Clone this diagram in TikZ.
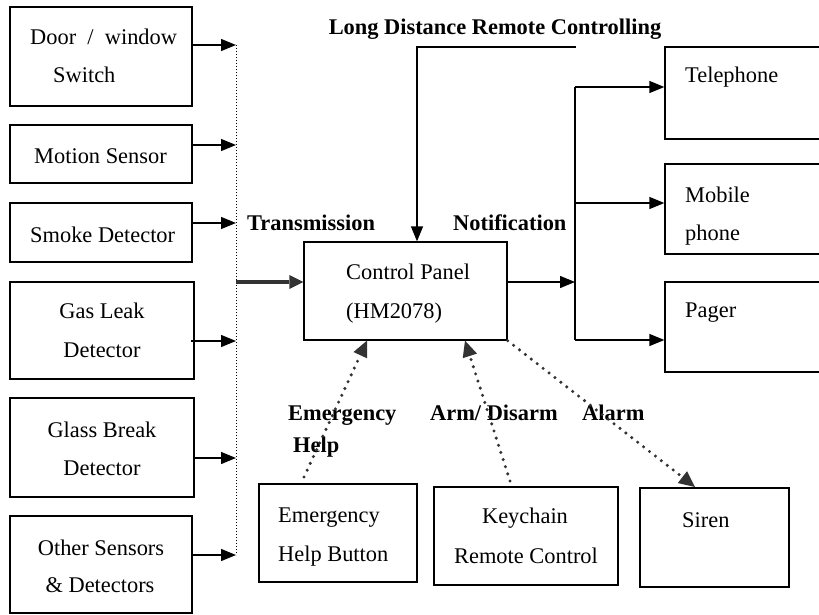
\documentclass[tikz,border=0pt]{standalone}
\usepackage{fontspec}
\setmainfont{Liberation Serif}
\usetikzlibrary{arrows.meta}
\begin{document}
\begin{tikzpicture}[x=1pt,y=-1pt,
  box/.style={draw,line width=1.3pt,rectangle,inner sep=0pt},
  txt/.style={anchor=base west,inner sep=0pt,font=\fontsize{22.4}{26}\selectfont},
  ctxt/.style={anchor=base,inner sep=0pt,font=\fontsize{22.4}{26}\selectfont},
  btxt/.style={anchor=base west,inner sep=0pt,font=\fontsize{22.4}{26}\selectfont\bfseries},
  conn/.style={line width=1.3pt},
  arr/.style={line width=1.3pt,-{Triangle[length=15pt,width=12pt]}},
  dotarr/.style={draw=black!80,line width=3.4pt,line cap=round,dash pattern=on 0pt off 7.5pt,
     -{Triangle[length=16pt,width=15pt,line cap=butt,line width=0pt,fill=black!80]}},
]
\useasboundingbox (0,0) rectangle (819,615);
\clip (0,0) rectangle (819,615);
% left boxes
\node[box,minimum width=182pt,minimum height=99pt] (door) at (101,56.5) {};
\node[box,minimum width=182pt,minimum height=58pt] (motion) at (101,154) {};
\node[box,minimum width=182pt,minimum height=59pt] (smoke) at (101,232.5) {};
\node[box,minimum width=184pt,minimum height=97pt] (gas) at (102,330.5) {};
\node[box,minimum width=184pt,minimum height=99pt] (glass) at (102,447.5) {};
\node[box,minimum width=182pt,minimum height=97pt] (other) at (101,564.5) {};
\node[txt] (tdoor) at (30,45) {Door \ /\ \ window};
\node[txt] (tswitch) at (53,83) {Switch};
\node[txt] (tmotion) at (34,163) {Motion Sensor};
\node[txt] (tsmoke) at (30,242) {Smoke Detector};
\node[ctxt] (tgas) at (102,318) {Gas Leak};
\node[ctxt] (tgas2) at (102,357) {Detector};
\node[ctxt] (tglass) at (102,437) {Glass Break};
\node[ctxt] (tglass2) at (102,475) {Detector};
\node[ctxt] (tother) at (101,555) {Other Sensors};
\node[ctxt] (tother2) at (100,592) {\& Detectors};
% collector
\coordinate (c1) at (236,45);
\coordinate (c2) at (236,145);
\coordinate (c3) at (236,223);
\coordinate (c4) at (236,341);
\coordinate (c5) at (236,458);
\coordinate (c6) at (236,555);
\coordinate (cm) at (236,282);
\draw[line width=1pt,dotted] (c1) -- (c6);
\draw[arr] (door.east |- c1) -- (c1);
\draw[arr] (motion.east |- c2) -- (c2);
\draw[arr] (smoke.east |- c3) -- (c3);
\draw[arr] (191,341) -- (c4);
\draw[arr] (glass.east |- c5) -- (c5);
\draw[arr] (other.east |- c6) -- (c6);
% control panel
\node[box,minimum width=203pt,minimum height=98pt] (cp) at (405.5,291) {};
\node[txt] (tcp1) at (346,279) {Control Panel};
\node[txt] (tcp2) at (346,318) {(HM2078)};
\draw[draw=black!80,line width=3.5pt,-{Triangle[length=14pt,width=14pt,line width=0pt,fill=black!80]}] (cm) -- (cp.west |- cm);
\node[btxt] (ltrans) at (247,230) {Transmission};
\node[btxt] (lnotif) at (453,230) {Notification};
% long distance
\node[anchor=base,inner sep=0pt,font=\fontsize{22.4}{26}\selectfont\bfseries] (llong) at (495,35) {Long Distance Remote Controlling};
\coordinate (l1) at (576,47);
\coordinate (l2) at (417,47);
\draw[arr] (l1) -- (l2) -- (cp.north -| l2);
% right side
\node[box,minimum width=170pt,minimum height=92pt] (tel) at (750,93) {};
\node[box,minimum width=170pt,minimum height=90pt] (mob) at (750,209) {};
\node[box,minimum width=170pt,minimum height=90pt] (pag) at (750,327) {};
\node[txt] (ttel) at (685,83) {Telephone};
\node[txt] (tmob) at (685,202) {Mobile};
\node[txt] (tmob2) at (685,240) {phone};
\node[txt] (tpag) at (685,317) {Pager};
\coordinate (n0) at (575,282);
\coordinate (n1) at (575,87);
\coordinate (n2) at (575,203);
\coordinate (n3) at (575,340);
\draw[arr] (cp.east |- n0) -- (n0);
\draw[conn] (n1) -- (n3);
\draw[arr] (n1) -- (tel.west |- n1);
\draw[arr] (n2) -- (mob.west |- n2);
\draw[arr] (n3) -- (pag.west |- n3);
% bottom boxes
\node[box,minimum width=158pt,minimum height=98pt] (emb) at (338,533) {};
\node[box,minimum width=184pt,minimum height=98pt] (key) at (526,536) {};
\node[box,minimum width=149pt,minimum height=99pt] (sir) at (714.5,537.5) {};
\node[txt] (temb1) at (278,522) {Emergency};
\node[txt] (temb2) at (278,561) {Help Button};
\node[ctxt] (tkey1) at (525,523) {Keychain};
\node[ctxt] (tkey2) at (526,563) {Remote Control};
\node[txt] (tsir) at (682,527) {Siren};
% labels
\node[btxt] (lemg) at (288,420) {Emergency};
\node[btxt] (lhelp) at (293,452) {Help};
\node[btxt] (larm) at (430,420) {Arm/ Disarm};
\node[btxt] (lalarm) at (582,420) {Alarm};
% dotted arrows
\coordinate (e0) at (304,477);
\coordinate (e1) at (367,340);
\coordinate (k0) at (510,481);
\coordinate (k1) at (465,340);
\coordinate (s1) at (695,487);
\draw[dotarr] (e0) -- (cp.south -| e1);
\draw[dotarr] (k0) -- (cp.south -| k1);
\draw[dotarr] (cp.south east) -- (s1);
\end{tikzpicture}
\end{document}
